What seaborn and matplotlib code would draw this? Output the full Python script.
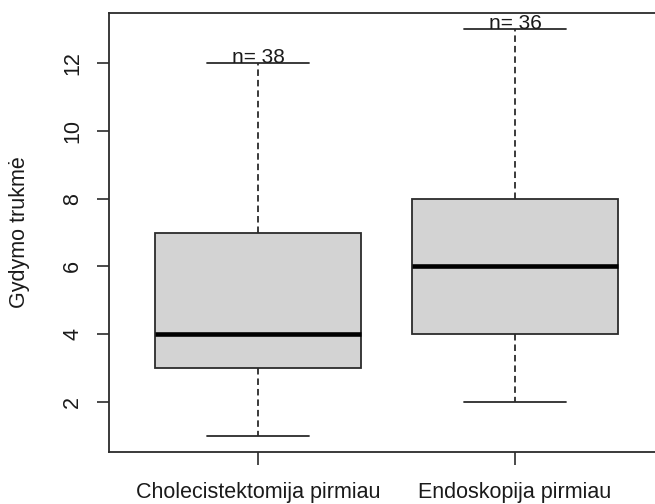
import numpy as np
import pandas as pd
import matplotlib
matplotlib.use("Agg")
import matplotlib.pyplot as plt
import seaborn as sns

# Five-number summaries of treatment duration per group
groups = ["Cholecistektomija pirmiau", "Endoskopija pirmiau"]
whisker_low = [1, 2]
lower_quartile = [3, 4]
median = [4, 6]
upper_quartile = [7, 8]
whisker_high = [12, 13]
n_obs = [38, 36]

y_ticks = [2, 4, 6, 8, 10, 12]
y_label = "Gydymo trukmė"

rows = []
for g, lo, q1, md, q3, hi in zip(groups, whisker_low, lower_quartile, median,
                                 upper_quartile, whisker_high):
    for v in (lo, q1, md, q3, hi):
        rows.append({"grupe": g, "trukme": v})
df = pd.DataFrame(rows)

sns.set_style("ticks")
plt.rcParams["font.family"] = ["Liberation Sans", "DejaVu Sans"]

fig = plt.figure(figsize=(6.55, 5.04), dpi=100)
ax = fig.add_axes([109 / 655, 52 / 504, 555 / 655, 439 / 504])

edge = "#2b2b2b"
text_col = "#1a1a1a"
lw = 1.3
fs = 15.5
sns.boxplot(
    data=df, x="grupe", y="trukme", order=groups, ax=ax,
    whis=(0, 100), width=0.8, color="#d3d3d3", saturation=1,
    linecolor=edge, linewidth=lw,
    boxprops=dict(facecolor="#d3d3d3", edgecolor=edge, linewidth=lw),
    whiskerprops=dict(color=edge, linewidth=lw, linestyle=(0, (3.6, 2.2))),
    capprops=dict(color=edge, linewidth=lw),
    medianprops=dict(color="black", linewidth=3.3, solid_capstyle="butt"),
)

for i, (hi, n) in enumerate(zip(whisker_high, n_obs)):
    ax.text(i, hi, f"n= {n}", ha="center", va="baseline", fontsize=15,
            color=text_col)

ax.set_xlim(-0.58, 1.58)
ax.set_ylim(0.52, 13.48)
ax.set_yticks(y_ticks)
ax.set_xlabel("")
ax.set_ylabel(y_label, fontsize=fs, color=text_col)
ax.yaxis.set_label_coords(-0.142, 0.5)

ax.tick_params(axis="both", length=9, width=1.2, color=edge,
               labelsize=fs, labelcolor=text_col)
ax.tick_params(axis="y", labelrotation=90, pad=9.5)
ax.tick_params(axis="x", pad=12.5)
for lab in ax.get_yticklabels():
    lab.set_verticalalignment("center")

for side in ("left", "bottom", "top", "right"):
    ax.spines[side].set_visible(True)
    ax.spines[side].set_color(edge)
    ax.spines[side].set_linewidth(1.3)

fig.savefig("out.png", dpi=100)
